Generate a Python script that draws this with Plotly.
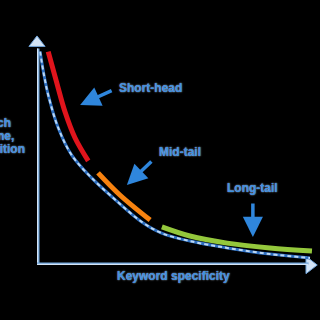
import plotly.graph_objects as go

# Curve (x: keyword specificity, y: search volume, 0-100 scale)
head_x = [4.0, 6.8, 10.0, 13.6, 18.3]
head_y = [93.6, 81.1, 67.2, 55.7, 45.7]
mid_x = [21.8, 29.6, 40.4]
mid_y = [40.4, 30.7, 19.7]
tail_x = [44.6, 54.6, 67.9, 83.2, 98.2]
tail_y = [16.7, 12.7, 9.6, 7.5, 6.1]
dash_x = [1.1, 2.5, 4.0, 7.6, 12.4, 19.5, 28.9, 37.4, 44.5, 54.6, 67.9, 83.2, 97.5]
dash_y = [93.6, 83.3, 74.6, 60.1, 48.2, 38.2, 27.6, 18.9, 14.0, 10.5, 7.5, 4.8, 3.1]

labels = ["Short-head", "Mid-tail", "Long-tail"]
x_title = "Keyword specificity"
y_title_lines = ["Search", "volume,", "competition"]

FONT = "Liberation Sans"
TXT = "#3d8fe0"
ARROW = "#2f86dc"
AX_DARK = "#6fa3d8"
AX_LIGHT = "#d3e4f6"

fig = go.Figure()

# axes (shafts)
fig.add_shape(type="line", x0=0, y0=0, x1=0, y1=95, line=dict(color=AX_DARK, width=5))
fig.add_shape(type="line", x0=0, y0=0, x1=0, y1=95, line=dict(color=AX_LIGHT, width=2.5))
fig.add_shape(type="line", x0=0, y0=0, x1=97, y1=0, line=dict(color=AX_DARK, width=5))
fig.add_shape(type="line", x0=0, y0=0, x1=97, y1=0, line=dict(color=AX_LIGHT, width=2.5))

# arrowheads of axes
fig.add_trace(go.Scatter(x=[0], y=[97.4], mode="markers", cliponaxis=False,
                         marker=dict(symbol="triangle-up", size=14, color=AX_LIGHT,
                                     line=dict(color=AX_DARK, width=1)), hoverinfo="skip"))
fig.add_trace(go.Scatter(x=[97.4], y=[0], mode="markers", cliponaxis=False,
                         marker=dict(symbol="triangle-right", size=15, color=AX_LIGHT,
                                     line=dict(color=AX_DARK, width=1)), hoverinfo="skip"))

# dashed curve
fig.add_trace(go.Scatter(x=dash_x, y=dash_y, mode="lines", line=dict(color="#2e6fc0", width=3, shape="spline"),
                         hoverinfo="skip"))
fig.add_trace(go.Scatter(x=dash_x, y=dash_y, mode="lines",
                         line=dict(color="#bcd8f4", width=2, dash="4px,3px", shape="spline"), hoverinfo="skip"))

# coloured segments
for xs, ys, c in [(head_x, head_y, "#e0141c"), (mid_x, mid_y, "#f7820f"), (tail_x, tail_y, "#94c83c")]:
    fig.add_trace(go.Scatter(x=xs, y=ys, mode="lines", line=dict(color=c, width=5, shape="spline"),
                             hoverinfo="skip"))

tfont = dict(family=FONT, size=12, color=TXT, weight="bold", shadow="0px 0px 1.5px #cfe5fb")

# pointing arrows
for (hx, hy, axp, ayp) in [(15.4, 70.2, 33, -15), (32.1, 35.1, 26, -25), (77.1, 12.3, 0, -35)]:
    fig.add_annotation(x=hx, y=hy, ax=axp, ay=ayp, text="", showarrow=True, arrowhead=2,
                       arrowsize=1.15, arrowwidth=3.5, arrowcolor=ARROW)

# labels
for (tx, ty, t) in [(40.7, 77.6, labels[0]), (51.1, 49.6, labels[1]), (76.8, 33.8, labels[2])]:
    fig.add_annotation(x=tx, y=ty, text=t, showarrow=False, font=tfont)

fig.add_annotation(xref="paper", yref="paper", x=0.489, y=-0.088, text=x_title,
                   showarrow=False, font=tfont)
# y title: centred beyond the left edge, as in the (cropped) original
for line, yp in zip(y_title_lines, [0.623, 0.566, 0.507]):
    fig.add_annotation(xref="paper", yref="paper", x=-0.164, y=yp, text=line, xanchor="center",
                       showarrow=False, font=tfont)

fig.update_layout(
    width=320, height=320,
    margin=dict(l=37, r=3, t=37, b=55),
    paper_bgcolor="black", plot_bgcolor="black",
    showlegend=False,
    xaxis=dict(range=[0, 100], visible=False, fixedrange=True),
    yaxis=dict(range=[0, 100], visible=False, fixedrange=True),
)

fig.write_html("out.html", config={"displayModeBar": False})
